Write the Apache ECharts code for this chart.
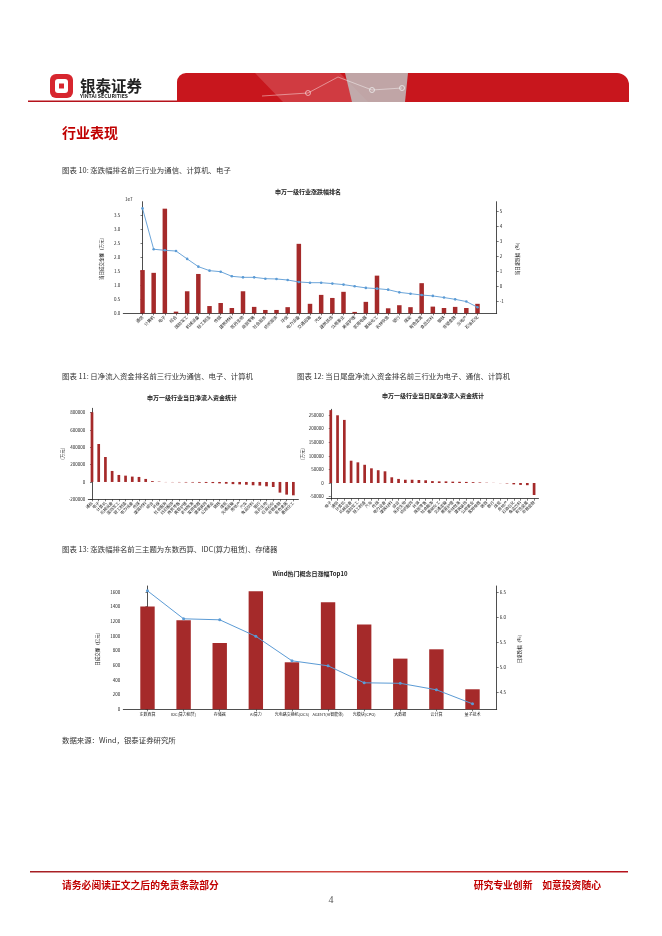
<!DOCTYPE html>
<html><head><meta charset="utf-8">
<script src="https://cdn.jsdelivr.net/npm/echarts@6.0.0/dist/echarts.min.js"></script>
<style>html,body{margin:0;padding:0;background:#fff}#main{width:662px;height:936px}</style>
</head><body><div id="main"></div>
<script>
const FONT = '"Noto Sans CJK SC", "Noto Sans", sans-serif';

// ---------- Chart 1: 申万一级行业涨跌幅排名 ----------
const industryCats = ['通信','计算机','电子','综合','国防军工','机械设备','轻工制造','传媒','建筑材料','医药生物','商贸零售','社会服务','纺织服饰','环保','电力设备','交通运输','汽车','建筑装饰','公用事业','美容护理','家用电器','基础化工','农林牧渔','银行','煤炭','有色金属','食品饮料','钢铁','非银金融','房地产','石油石化'];
const industryVolume = [15500000,14500000,37500000,600000,7900000,14100000,2600000,3700000,1900000,7900000,2300000,1200000,1200000,2200000,24900000,3400000,6600000,5500000,7700000,500000,4100000,13500000,1800000,2900000,2200000,10800000,2400000,1900000,2300000,1900000,3400000];
const industryChange = [5.22,2.47,2.40,2.35,1.82,1.30,1.03,0.96,0.65,0.58,0.58,0.49,0.47,0.40,0.27,0.22,0.22,0.16,0.09,-0.02,-0.13,-0.18,-0.25,-0.43,-0.52,-0.61,-0.67,-0.78,-0.90,-1.05,-1.43];
const industryVolTicks = [0,5000000,10000000,15000000,20000000,25000000,30000000,35000000];
const industryChgTicks = [-1,0,1,2,3,4,5];

// ---------- Chart 2: 当日净流入资金 ----------
const netFlowCats = ['通信','电子','计算机','机械设备','国防军工','轻工制造','电力设备','传媒','建筑材料','综合','环保','社会服务','纺织服饰','商贸零售','美容护理','农林牧渔','家用电器','建筑装饰','公用事业','钢铁','煤炭','交通运输','房地产','汽车','食品饮料','银行','医药生物','石油石化','非银金融','有色金属','基础化工'];
const netFlowValues = [804000,438000,288000,127000,81000,73000,62000,58000,35000,10000,4000,-2000,-3000,-4000,-6000,-7000,-9000,-11000,-13000,-16000,-20000,-25000,-28000,-32000,-38000,-42000,-50000,-58000,-123000,-146000,-154000];
const netFlowTicks = [-200000,0,200000,400000,600000,800000];

// ---------- Chart 3: 当日尾盘净流入资金 ----------
const tailFlowCats = ['电子','通信','计算机','机械设备','国防军工','轻工制造','汽车','传媒','电力设备','建筑材料','综合','医药生物','纺织服饰','环保','商贸零售','社会服务','基础化工','交通运输','美容护理','农林牧渔','建筑装饰','公用事业','家用电器','钢铁','银行','煤炭','房地产','石油石化','食品饮料','有色金属','非银金融'];
const tailFlowValues = [268000,249000,232000,82000,76000,67000,54000,47000,43000,21000,15000,12000,12000,11000,10000,7000,6000,6000,5000,4500,4000,3000,2000,1000,500,-500,-1500,-5000,-7000,-8000,-44000];
const tailFlowTicks = [-50000,0,50000,100000,150000,200000,250000];

// ---------- Chart 4: Wind热门概念日涨幅Top10 ----------
const conceptCats = ['东数西算','IDC(算力租赁)','存储器','AI算力','光电路交换机(OCS)','AGENT(AI智能体)','光模块(CPO)','大数据','云计算','量子技术'];
const conceptVolume = [1400,1214,905,1609,641,1459,1155,691,818,273];
const conceptChange = [6.53,5.97,5.95,5.62,5.13,5.03,4.69,4.68,4.55,4.27];
const conceptVolTicks = [0,200,400,600,800,1000,1200,1400,1600];
const conceptChgTicks = [4.5,5.0,5.5,6.0,6.5];

const BAR = '#a52a2a';
const LINE = '#5b9bd5';
const AX = {lineStyle:{color:'#222',width:0.8}};

function idx(arr){ return arr.map((_, i) => i); }

function xAxisDef(grid, min, max, cats, rotate, fs){
  const ticks = idx(cats);
  return {
    type:'value', gridIndex:grid, min:min, max:max, position:'bottom',
    axisLine:{show:true, onZero:false, lineStyle:AX.lineStyle},
    axisTick:{show:true, length:2, customValues:ticks, lineStyle:{color:'#222',width:0.6}},
    axisLabel:{customValues:ticks, formatter:v => cats[Math.round(v)] || '', rotate:rotate,
      fontSize:fs, color:'#222', margin:3, fontFamily:FONT, hideOverlap:false},
    splitLine:{show:false}
  };
}
function yAxisDef(grid, pos, min, max, ticks, fmt, name, gap){
  return {
    type:'value', gridIndex:grid, position:pos, min:min, max:max,
    axisLine:{show:true, lineStyle:AX.lineStyle},
    axisTick:{show:true, length:2, customValues:ticks, lineStyle:{color:'#222',width:0.6}},
    axisLabel:{customValues:ticks, formatter:fmt, fontSize:4.5, color:'#222', margin:3, fontFamily:FONT},
    splitLine:{show:false},
    name:name, nameLocation:'middle', nameRotate:90, nameGap:gap,
    nameTextStyle:{fontSize:4.5, color:'#222', fontFamily:FONT}
  };
}

function txt(x, y, text, fs, color, opts){
  opts = opts || {};
  return {type:'text', silent:true, style:{x:x, y:y, text:text, fontSize:fs, fill:color,
    fontFamily:opts.family || FONT, align:opts.align || 'left', verticalAlign:'middle', fontWeight:opts.weight || 'normal'}};
}

const graphics = [
  // header
  {type:'rect', shape:{x:28, y:100.5, width:152, height:1.5}, style:{fill:'#b5121b'}},
  {type:'rect', shape:{x:177, y:73, width:452, height:29, r:[9,12,0,0]}, style:{fill:'#c8161d'}},
  {type:'polygon', shape:{points:[[255,73],[340,73],[368,102],[283,102]]}, style:{fill:'rgba(255,255,255,0.16)'}},
  {type:'polygon', shape:{points:[[345,73],[408,73],[405,102],[352,102]]}, style:{fill:'rgba(190,190,190,0.85)'}},
  {type:'polyline', shape:{points:[[262,96],[308,93],[338,77],[372,90],[402,88]]}, style:{stroke:'rgba(255,255,255,0.55)', lineWidth:0.8, fill:null}},
  {type:'circle', shape:{cx:308, cy:93, r:2.5}, style:{stroke:'rgba(255,255,255,0.7)', fill:null, lineWidth:0.8}},
  {type:'circle', shape:{cx:372, cy:90, r:2.5}, style:{stroke:'#eee', fill:null, lineWidth:0.8}},
  {type:'circle', shape:{cx:402, cy:88, r:2.5}, style:{stroke:'#eee', fill:null, lineWidth:0.8}},
  {type:'rect', shape:{x:50, y:74, width:23, height:24, r:6}, style:{fill:'#d7262e'}},
  {type:'rect', shape:{x:55, y:79, width:13, height:14, r:3}, style:{fill:'#fff'}},
  {type:'rect', shape:{x:59, y:83.5, width:5, height:5}, style:{fill:'#d7262e'}},
  txt(80, 86, '银泰证券', 15.5, '#222', {weight:'bold'}),
  txt(80, 96.5, 'YINTAI SECURITIES', 5.2, '#222', {weight:'bold'}),
  txt(62, 133, '行业表现', 14, '#c00000', {weight:'bold'}),
  // captions
  txt(62, 170, '图表 10: 涨跌幅排名前三行业为通信、计算机、电子', 7.4, '#333'),
  txt(62, 376, '图表 11: 日净流入资金排名前三行业为通信、电子、计算机', 7.4, '#333'),
  txt(297, 376, '图表 12: 当日尾盘净流入资金排名前三行业为电子、通信、计算机', 7.4, '#333'),
  txt(62, 549, '图表 13: 涨跌幅排名前三主题为东数西算、IDC(算力租赁)、存储器', 7.4, '#333'),
  txt(62, 740, '数据来源：Wind，银泰证券研究所', 7.4, '#333'),
  // chart titles
  txt(308, 192, '申万一级行业涨跌幅排名', 6, '#222', {align:'center', weight:'bold'}),
  txt(192, 398, '申万一级行业当日净流入资金统计', 6, '#222', {align:'center', weight:'bold'}),
  txt(433, 396, '申万一级行业当日尾盘净流入资金统计', 6, '#222', {align:'center', weight:'bold'}),
  txt(310, 574, 'Wind热门概念日涨幅Top10', 6, '#222', {align:'center', weight:'bold'}),
  txt(125, 199, '1e7', 4.5, '#222'),
  // footer
  {type:'rect', shape:{x:30, y:871, width:598, height:1.6},
    style:{fill:new echarts.graphic.LinearGradient(0,0,1,0,[{offset:0,color:'#a51d22'},{offset:0.5,color:'#d0453f'},{offset:1,color:'#b5121b'}])}},
  txt(62, 885, '请务必阅读正文之后的免责条款部分', 9.8, '#c00000', {weight:'bold'}),
  txt(601, 885, '研究专业创新　如意投资随心', 9.8, '#c00000', {align:'right', weight:'bold'}),
  txt(331, 900, '4', 10, '#555', {align:'center', family:'"Liberation Serif", serif'})
];

const option = {
  animation:false,
  backgroundColor:'#fff',
  textStyle:{fontFamily:FONT},
  grid:[
    {left:123.3, top:201.7, width:373.4, height:111.6},
    {left:88.3, top:408.3, width:210.1, height:91},
    {left:326.7, top:409.3, width:211.8, height:89.4},
    {left:123.3, top:586, width:373.4, height:123.3}
  ],
  xAxis:[
    xAxisDef(0, -1.72, 31.72, industryCats, 45, 4.2),
    xAxisDef(1, -0.55, 30.75, netFlowCats, 45, 4),
    xAxisDef(2, -0.6, 30.65, tailFlowCats, 45, 4),
    xAxisDef(3, -0.67, 9.67, conceptCats, 0, 4)
  ],
  yAxis:[
    yAxisDef(0, 'left', 0, 40000000, industryVolTicks, v => (v/1e7).toFixed(1), '当日成交金额（万元）', 13),
    yAxisDef(0, 'right', -1.84, 5.67, industryChgTicks, v => String(v), '当日涨跌幅（%）', 17),
    yAxisDef(1, 'left', -200000, 850000, netFlowTicks, v => String(v), '(万元)', 18),
    yAxisDef(2, 'left', -57700, 271000, tailFlowTicks, v => String(v), '(万元)', 18),
    yAxisDef(3, 'left', 0, 1681, conceptVolTicks, v => String(v), '日成交额（亿元）', 15),
    yAxisDef(3, 'right', 4.16, 6.626, conceptChgTicks, v => v.toFixed(1), '日涨跌幅（%）', 13)
  ],
  series:[
    {type:'bar', xAxisIndex:0, yAxisIndex:0, barWidth:4.5, itemStyle:{color:BAR},
      data:industryVolume.map((v,i)=>[i,v]), z:2},
    {type:'line', xAxisIndex:0, yAxisIndex:1, symbol:'circle', symbolSize:2.6,
      lineStyle:{color:LINE, width:0.9}, itemStyle:{color:LINE}, data:industryChange.map((v,i)=>[i,v]), z:3},
    {type:'bar', xAxisIndex:1, yAxisIndex:2, barWidth:2.7, itemStyle:{color:BAR},
      data:netFlowValues.map((v,i)=>[i,v])},
    {type:'bar', xAxisIndex:2, yAxisIndex:3, barWidth:2.7, itemStyle:{color:BAR},
      data:tailFlowValues.map((v,i)=>[i,v])},
    {type:'bar', xAxisIndex:3, yAxisIndex:4, barWidth:14.4, itemStyle:{color:BAR},
      data:conceptVolume.map((v,i)=>[i,v]), z:2},
    {type:'line', xAxisIndex:3, yAxisIndex:5, symbol:'circle', symbolSize:3,
      lineStyle:{color:LINE, width:1}, itemStyle:{color:LINE}, data:conceptChange.map((v,i)=>[i,v]), z:3}
  ],
  graphic:graphics
};

const chart = echarts.init(document.getElementById('main'), null, {renderer:'canvas'});
chart.setOption(option);
</script>
</body></html>
